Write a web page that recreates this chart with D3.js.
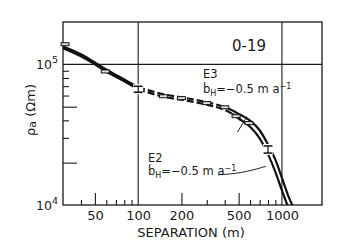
<!DOCTYPE html>
<html>
<head>
<meta charset="utf-8">
<script src="https://cdn.jsdelivr.net/npm/d3@7"></script>
<style>
  body { margin: 0; background: #fff; }
  text { font-family: "DejaVu Sans", sans-serif; fill: #1a1a1a; }
</style>
</head>
<body>
<div id="chart"></div>
<script>
// separations (m) where the two model curves were read
const separations = [30, 40, 50, 60, 80, 100, 150, 200, 300, 400, 450, 500, 600, 700, 800, 900, 1000, 1100, 1200];
// model E3 (upper) and E2 (lower), apparent resistivity in ohm m
const e3Rho = [134000, 118000, 103000, 92000, 78000, 68700, 61300, 58300, 53800, 49600, 47200, 44400, 39800, 34000, 26900, 21000, 15600, 11800, 9600];
const e2Rho = [130000, 114000, 100000, 89000, 75800, 66500, 58800, 56000, 51600, 47400, 44600, 41200, 36000, 29800, 23000, 17200, 12700, 9800, 8000];

// observed values with error bars (err = multiplicative half-range, 0 = box only)
const obsSep = [31, 59, 100, 150, 200, 300, 400, 480, 590, 800];
const obsRho = [139000, 89000, 66500, 59300, 57500, 53000, 49500, 42800, 38200, 24800];
const obsErr = [0, 0, 1.05, 0, 0, 0, 0, 0, 0, 1.06];

// tick values
const xMajor = [50, 200, 500];
const xMinor = [40, 60, 70, 80, 90, 300, 400, 600, 700, 800, 900];
const xLabels = [50, 100, 200, 500, 1000];
const xGrid = [100, 1000];
const yMajor = [20000, 50000];
const yMinor = [30000, 40000, 60000, 70000, 80000, 90000];
const yGrid = [100000];
const yLabels = [{v: 10000, exp: "4"}, {v: 100000, exp: "5"}];

function draw() {
  const W = 350, H = 241;
  const left = 63, right = 322, top = 22, bottom = 205;

  const svg = d3.select("#chart").append("svg")
    .attr("width", W).attr("height", H)
    .attr("viewBox", [0, 0, W, H]);

  const x = d3.scaleLog().domain([30, 1900]).range([left, right]);
  const y = d3.scaleLog().domain([10000, 200000]).range([bottom, top]);

  svg.append("defs").append("clipPath").attr("id", "plot")
    .append("rect").attr("x", left).attr("y", top)
    .attr("width", right - left).attr("height", bottom - top);

  // frame
  svg.append("rect")
    .attr("x", left).attr("y", top)
    .attr("width", right - left).attr("height", bottom - top)
    .attr("fill", "none").attr("stroke", "#1a1a1a").attr("stroke-width", 1.3);

  // decade grid lines
  svg.append("g").selectAll("line").data(xGrid).join("line")
    .attr("x1", d => x(d)).attr("x2", d => x(d))
    .attr("y1", top).attr("y2", bottom)
    .attr("stroke", "#1a1a1a").attr("stroke-width", 1.1);
  svg.append("g").selectAll("line").data(yGrid).join("line")
    .attr("x1", left).attr("x2", right)
    .attr("y1", d => y(d)).attr("y2", d => y(d))
    .attr("stroke", "#1a1a1a").attr("stroke-width", 1.1);

  // inward ticks on the bottom axis
  const tickAxis = (g) => g.call(s => s.select(".domain").remove())
    .call(s => s.selectAll("line").attr("stroke", "#1a1a1a").attr("stroke-width", 1.1));

  svg.append("g").attr("transform", `translate(0,${bottom})`)
    .call(d3.axisTop(x).tickValues(xMinor).tickSize(5).tickFormat(""))
    .call(tickAxis);
  svg.append("g").attr("transform", `translate(0,${bottom})`)
    .call(d3.axisTop(x).tickValues(xMajor).tickSize(12).tickFormat(""))
    .call(tickAxis);

  // inward ticks on the left axis
  svg.append("g").attr("transform", `translate(${left},0)`)
    .call(d3.axisRight(y).tickValues(yMinor).tickSize(6).tickFormat(""))
    .call(tickAxis);
  svg.append("g").attr("transform", `translate(${left},0)`)
    .call(d3.axisRight(y).tickValues(yMajor).tickSize(14).tickFormat(""))
    .call(tickAxis);

  // x tick labels
  svg.append("g").attr("transform", `translate(0,${bottom})`)
    .call(d3.axisBottom(x).tickValues(xLabels).tickSize(0).tickPadding(6).tickFormat(d3.format("d")))
    .call(g => g.select(".domain").remove())
    .call(g => g.selectAll("text")
      .style("font-family", "DejaVu Sans, sans-serif")
      .attr("font-size", 13).attr("fill", "#1a1a1a"));

  // y labels with powers of ten
  const yl = svg.append("g").selectAll("text").data(yLabels).join("text")
    .attr("x", left - 5).attr("y", d => y(d.v) + 5)
    .attr("text-anchor", "end").attr("font-size", 12.5);
  yl.append("tspan").text("10");
  yl.append("tspan").attr("dy", -6).attr("font-size", 9.5).text(d => d.exp);

  // axis titles
  svg.append("text")
    .attr("x", 191).attr("y", 237)
    .attr("text-anchor", "middle").attr("font-size", 13)
    .text("SEPARATION (m)");

  const yt = svg.append("text")
    .attr("transform", "translate(35,110) rotate(-90)")
    .attr("text-anchor", "middle").attr("font-size", 13);
  yt.append("tspan").text("ρ");
  yt.append("tspan").attr("font-size", 11).attr("dy", 1).text("a");
  yt.append("tspan").attr("dy", -1).text(" (Ωm)");

  // model curves: solid below 100 m, dashed from 100 to 450 m, solid beyond
  const rows = separations.map((s, i) => ({sep: s, e3: e3Rho[i], e2: e2Rho[i]}));
  const pieces = [
    {lo: 30, hi: 100, dash: null},
    {lo: 100, hi: 450, dash: "7,3"},
    {lo: 450, hi: 1200, dash: null}
  ];
  const curves = svg.append("g").attr("clip-path", "url(#plot)");
  ["e3", "e2"].forEach(key => {
    const line = d3.line()
      .x(d => x(d.sep))
      .y(d => y(d[key]))
      .curve(d3.curveMonotoneX);
    pieces.forEach(p => {
      curves.append("path")
        .datum(rows.filter(d => d.sep >= p.lo && d.sep <= p.hi))
        .attr("d", line)
        .attr("fill", "none")
        .attr("stroke", "#111")
        .attr("stroke-width", 2.2)
        .attr("stroke-dasharray", p.dash);
    });
  });

  // observations
  const obs = obsSep.map((s, i) => ({sep: s, rho: obsRho[i], err: obsErr[i]}));
  const og = svg.append("g");
  og.selectAll("rect").data(obs.filter(d => !d.err)).join("rect")
    .attr("x", d => x(d.sep) - 4).attr("y", d => y(d.rho) - 1.5)
    .attr("width", 8).attr("height", 3)
    .attr("fill", "#ddd").attr("stroke", "#111").attr("stroke-width", 1);
  const bars = og.selectAll("g.err").data(obs.filter(d => d.err)).join("g").attr("class", "err");
  bars.append("rect")
    .attr("x", d => x(d.sep) - 5).attr("y", d => y(d.rho * d.err) - 2)
    .attr("width", 10).attr("height", d => y(d.rho / d.err) - y(d.rho * d.err) + 4)
    .attr("fill", "#fff");
  bars.append("line")
    .attr("x1", d => x(d.sep)).attr("x2", d => x(d.sep))
    .attr("y1", d => y(d.rho * d.err)).attr("y2", d => y(d.rho / d.err))
    .attr("stroke", "#111").attr("stroke-width", 1.2);
  [1, -1].forEach(sgn => {
    bars.append("line")
      .attr("x1", d => x(d.sep) - 4.5).attr("x2", d => x(d.sep) + 4.5)
      .attr("y1", d => y(d.rho * Math.pow(d.err, sgn))).attr("y2", d => y(d.rho * Math.pow(d.err, sgn)))
      .attr("stroke", "#111").attr("stroke-width", 1.5);
  });

  // site label
  svg.append("text")
    .attr("x", 249).attr("y", 51)
    .attr("text-anchor", "middle").attr("font-size", 15)
    .text("0-19");

  // curve annotations
  const note = (tx, ty, name, nameDy) => {
    svg.append("text").attr("x", tx).attr("y", ty - nameDy).attr("font-size", 11.5).text(name);
    const t = svg.append("text").attr("x", tx).attr("y", ty).attr("font-size", 11.5);
    t.append("tspan").text("ḃ");
    t.append("tspan").attr("dy", 3).attr("font-size", 8).text("H");
    t.append("tspan").attr("dy", -3).text("=−0.5 m a");
    t.append("tspan").attr("dy", -4).attr("font-size", 8).text("−1");
  };
  note(203, 93, "E3", 15);
  note(148, 175, "E2", 13);

  // leader lines, anchored to the data scales
  svg.append("path")
    .attr("d", d3.line()([[x(560), y(41000)], [x(490), y(33000)]]))
    .attr("fill", "none").attr("stroke", "#1a1a1a").attr("stroke-width", 1);
  svg.append("path")
    .attr("d", d3.line().curve(d3.curveBasis)([[x(360), y(16400)], [x(520), y(16800)], [x(770), y(18800)]]))
    .attr("fill", "none").attr("stroke", "#1a1a1a").attr("stroke-width", 1);
}

draw();
</script>
</body>
</html>
